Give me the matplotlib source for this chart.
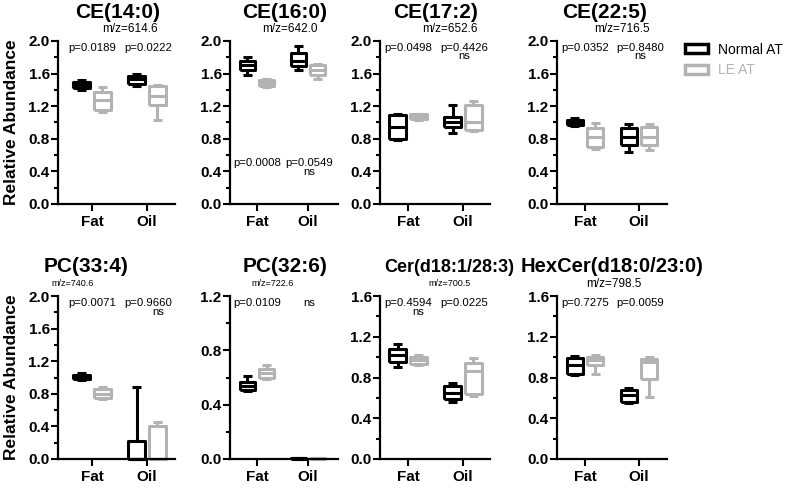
import matplotlib
matplotlib.use('Agg')
import matplotlib.pyplot as plt
from matplotlib.patches import Patch
from matplotlib.ticker import MultipleLocator

plt.rcParams['font.family'] = ['Liberation Sans', 'DejaVu Sans']

# ---- data ----
titles = ['CE(14:0)', 'CE(16:0)', 'CE(17:2)', 'CE(22:5)',
          'PC(33:4)', 'PC(32:6)', 'Cer(d18:1/28:3)', 'HexCer(d18:0/23:0)']
mz_labels = ['m/z=614.6', 'm/z=642.0', 'm/z=652.6', 'm/z=716.5',
             'm/z=740.6', 'm/z=722.6', 'm/z=700.5', 'm/z=798.5']
y_max = [2.0, 2.0, 2.0, 2.0, 2.0, 1.2, 1.6, 1.6]
groups = ['Fat', 'Oil']

# five-number summaries: [min, q1, median, q3, max]
normal_fat = [[1.40, 1.42, 1.46, 1.50, 1.52], [1.58, 1.64, 1.71, 1.75, 1.80],
              [0.79, 0.80, 0.95, 1.09, 1.10], [0.96, 0.97, 1.00, 1.03, 1.06],
              [0.97, 0.98, 1.00, 1.03, 1.05], [0.50, 0.51, 0.54, 0.57, 0.61],
              [0.90, 0.95, 1.02, 1.08, 1.13], [0.82, 0.83, 0.92, 0.99, 1.01]]
le_fat = [[1.13, 1.15, 1.28, 1.37, 1.43], [1.44, 1.45, 1.48, 1.52, 1.53],
          [1.03, 1.04, 1.07, 1.10, 1.11], [0.67, 0.70, 0.82, 0.93, 0.99],
          [0.74, 0.75, 0.80, 0.86, 0.88], [0.59, 0.60, 0.63, 0.66, 0.69],
          [0.92, 0.93, 0.97, 1.00, 1.02], [0.83, 0.92, 0.97, 1.00, 1.02]]
normal_oil = [[1.45, 1.47, 1.53, 1.57, 1.60], [1.64, 1.69, 1.76, 1.85, 1.94],
              [0.87, 0.94, 1.00, 1.07, 1.21], [0.64, 0.72, 0.82, 0.93, 0.98],
              [0.00, 0.00, 0.00, 0.22, 0.88], [0.000, 0.002, 0.004, 0.006, 0.008],
              [0.56, 0.59, 0.65, 0.72, 0.75], [0.55, 0.56, 0.63, 0.68, 0.70]]
le_oil = [[1.03, 1.21, 1.32, 1.45, 1.46], [1.53, 1.58, 1.64, 1.70, 1.72],
          [0.89, 0.91, 1.01, 1.21, 1.26], [0.66, 0.72, 0.82, 0.94, 0.98],
          [0.00, 0.00, 0.00, 0.40, 0.45], [0.000, 0.002, 0.004, 0.006, 0.008],
          [0.62, 0.64, 0.86, 0.94, 0.99], [0.61, 0.79, 0.95, 0.98, 1.00]]

p_fat = ['p=0.0189', 'p=0.0008', 'p=0.0498', 'p=0.0352',
         'p=0.0071', 'p=0.0109', 'p=0.4594', 'p=0.7275']
p_oil = ['p=0.0222', 'p=0.0549', 'p=0.4426', 'p=0.8480',
         'p=0.9660', 'ns', 'p=0.0225', 'p=0.0059']
ns_fat = [False, False, False, False, False, False, True, False]
ns_oil = [False, True, True, True, True, False, False, False]

# ---- layout (pixels of the 791x492 figure) ----
W, H = 791, 492
BLACK = 'black'
GREY = '#b3b3b3'
col_left = [58, 230, 380, 557]
col_width = [117, 108, 110, 110]
fat_px = [34, 27, 28, 28]
oil_px = [89, 78, 83, 82]
row_top = [41, 296]
ax_h = 163
title_x = [118, 285, 436, 605, 86, 285, 449, 612]
mz_x = [130, 290, 450, 622, 73, 273, 450, 614]
mz_size = [8.5, 8.5, 8.5, 8.5, 6.5, 6.5, 6.5, 8.5]
title_size = [15, 15, 15, 15, 15, 15, 13, 14.5]
p_y = [0.955, 0.25, 0.96, 0.96, 0.955, 0.955, 0.955, 0.955]


def stats(v, lab):
    return dict(whislo=v[0], q1=v[1], med=v[2], q3=v[3], whishi=v[4], fliers=[], label=lab)


fig = plt.figure(figsize=(W / 100, H / 100), dpi=100)

for i in range(8):
    r, c = divmod(i, 4)
    unit = oil_px[c] - fat_px[c]
    ax = fig.add_axes([col_left[c] / W, 1 - (row_top[r] + ax_h) / H,
                       col_width[c] / W, ax_h / H])
    ax.set_xlim(-fat_px[c] / unit, (col_width[c] - fat_px[c]) / unit)
    ax.set_ylim(0, y_max[i])

    for vals, pos, col in [(normal_fat[i], -0.19, BLACK), (le_fat[i], 0.19, GREY),
                           (normal_oil[i], 0.81, BLACK), (le_oil[i], 1.19, GREY)]:
        lp = dict(color=col, linewidth=2.2, solid_capstyle='butt')
        art = ax.bxp([stats(vals, '')], positions=[pos], widths=0.3, capwidths=0.17,
                     showfliers=False, manage_ticks=False,
                     boxprops=lp, whiskerprops=lp, capprops=lp, medianprops=lp)
        for k in art:
            for a in art[k]:
                a.set_clip_on(False)

    ax.set_xticks([0, 1])
    ax.set_xticklabels(groups, fontsize=11, fontweight='bold')
    ax.yaxis.set_major_locator(MultipleLocator(0.4))
    ax.yaxis.set_minor_locator(MultipleLocator(0.2))
    ax.yaxis.set_major_formatter(matplotlib.ticker.FormatStrFormatter('%.1f'))
    for t in ax.get_yticklabels():
        t.set_fontweight('bold')
    ax.tick_params(axis='y', labelsize=11, width=1.5, length=5, pad=1)
    ax.tick_params(axis='y', which='minor', width=1.5, length=3)
    ax.tick_params(axis='x', width=1.5, length=5, pad=3)
    for s in ['top', 'right']:
        ax.spines[s].set_visible(False)
    for s in ['left', 'bottom']:
        ax.spines[s].set_linewidth(1.6)

    tr = ax.get_xaxis_transform()
    ax.text(0, p_y[i], p_fat[i], transform=tr, ha='center', va='center', fontsize=8.2)
    ax.text(1.02, p_y[i], p_oil[i], transform=tr, ha='center', va='center', fontsize=8.2)
    if ns_fat[i]:
        ax.text(0.18, p_y[i] - 0.055, 'ns', transform=tr, ha='center', va='center', fontsize=8.2)
    if ns_oil[i]:
        dx = 0.2 if i == 4 else 0.03
        ax.text(1 + dx, p_y[i] - 0.055, 'ns', transform=tr, ha='center', va='center', fontsize=8.2)

    if c == 0:
        ax.set_ylabel('Relative Abundance', fontsize=12.5, fontweight='bold')
        ax.yaxis.set_label_coords((19 - col_left[c]) / col_width[c], 0.5)

    top = row_top[r]
    fig.text(title_x[i] / W, 1 - (top - 29) / H, titles[i], ha='center', va='center',
             fontsize=title_size[i], fontweight='bold')
    fig.text(mz_x[i] / W, 1 - (top - 12) / H, mz_labels[i], ha='center', va='center',
             fontsize=mz_size[i])

handles = [Patch(facecolor='white', edgecolor=BLACK, linewidth=2.5),
           Patch(facecolor='white', edgecolor=GREY, linewidth=2.5)]
fig.legend(handles, ['Normal AT', 'LE AT'], loc='upper left',
           bbox_to_anchor=(672 / W, 1 - 30 / H), frameon=False, fontsize=10,
           labelcolor=[BLACK, GREY], handlelength=1.7, handleheight=0.6,
           handletextpad=0.7, labelspacing=0.5)

fig.savefig('out.png', dpi=100)
